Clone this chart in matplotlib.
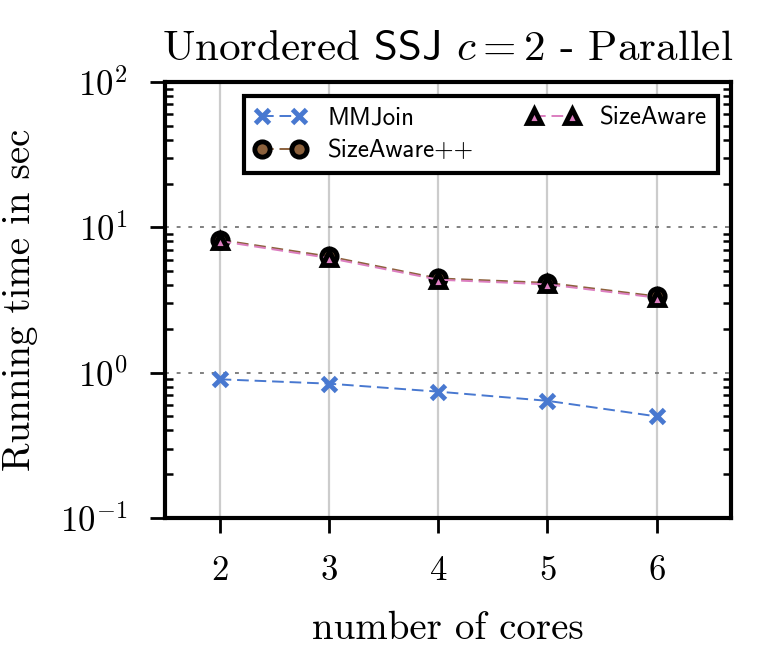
import numpy as np
import matplotlib as mpl
mpl.use('Agg')
import matplotlib.pyplot as plt
from matplotlib.ticker import LogLocator, NullFormatter

plt.rc('font', family='serif', serif=['cmr10'])
plt.rc('mathtext', fontset='cm')
plt.rcParams['axes.formatter.use_mathtext'] = True

cores = [2, 3, 4, 5, 6]
mmjoin = [0.90, 0.84, 0.74, 0.64, 0.50]
sizeaware_pp = [8.2, 6.3, 4.45, 4.15, 3.35]
sizeaware = [8.05, 6.15, 4.36, 4.05, 3.28]

blue = '#4878d0'
brown = '#8c613c'
pink = '#dc7ec0'

fig = plt.figure(figsize=(7.66, 6.72), dpi=100)
ax = fig.add_axes([0.2154, 0.2292, 0.7389, 0.6488])

ax.plot(cores, mmjoin, color=blue, linestyle=(0, (6, 3)), linewidth=1.4,
        marker='x', markersize=10, markeredgewidth=3.5, label='MMJoin', zorder=3)
ax.plot(cores, sizeaware_pp, color=brown, linestyle=(0, (6, 3)), linewidth=1.4,
        marker='o', markersize=11, markerfacecolor=brown, markeredgecolor='black',
        markeredgewidth=3.5, label='SizeAware++', zorder=3)
ax.plot(cores, sizeaware, color=pink, linestyle=(0, (6, 3)), linewidth=1.4,
        marker='^', markersize=10, markerfacecolor=pink, markeredgecolor='black',
        markeredgewidth=3.5, label='SizeAware', zorder=4)

ax.set_yscale('log')
ax.set_ylim(0.1, 100)
ax.set_xlim(1.5, 6.68)
ax.set_xticks(cores)
ax.set_xticklabels(['$%d$' % c for c in cores])
ax.yaxis.set_major_locator(LogLocator(base=10, numticks=10))
ax.yaxis.set_minor_locator(LogLocator(base=10, subs=np.arange(2, 10), numticks=20))
ax.yaxis.set_minor_formatter(NullFormatter())

ax.grid(axis='x', color='#cccccc', linewidth=1.6, linestyle='-', zorder=0)
ax.grid(axis='y', which='major', color='grey', linewidth=1.4, linestyle=(0, (2, 4)), zorder=0)
ax.set_axisbelow(True)

for s in ax.spines.values():
    s.set_linewidth(3)

ax.tick_params(axis='both', which='major', direction='out', length=11, width=2,
               labelsize=25, pad=16)
ax.tick_params(axis='y', which='minor', direction='in', length=6, width=1.8,
               left=True, right=True)

ax.set_xlabel('number of cores', fontsize=28, labelpad=17)
ax.set_ylabel('Running time in sec', fontsize=28, labelpad=16)
ax.set_title(r'Unordered $\mathsf{SSJ}$ $c = 2$ - Parallel', fontsize=31, pad=16)

leg = ax.legend(loc='upper right', bbox_to_anchor=(0.977, 0.968), ncol=2,
                numpoints=2, borderaxespad=0, fancybox=False, framealpha=1,
                edgecolor='black', columnspacing=2.1, handlelength=2.1,
                handletextpad=0.85, labelspacing=0.4, borderpad=0.42,
                prop={'family': 'cmss10', 'size': 18})
leg.get_frame().set_linewidth(3)

fig.savefig('out.png', dpi=100)
